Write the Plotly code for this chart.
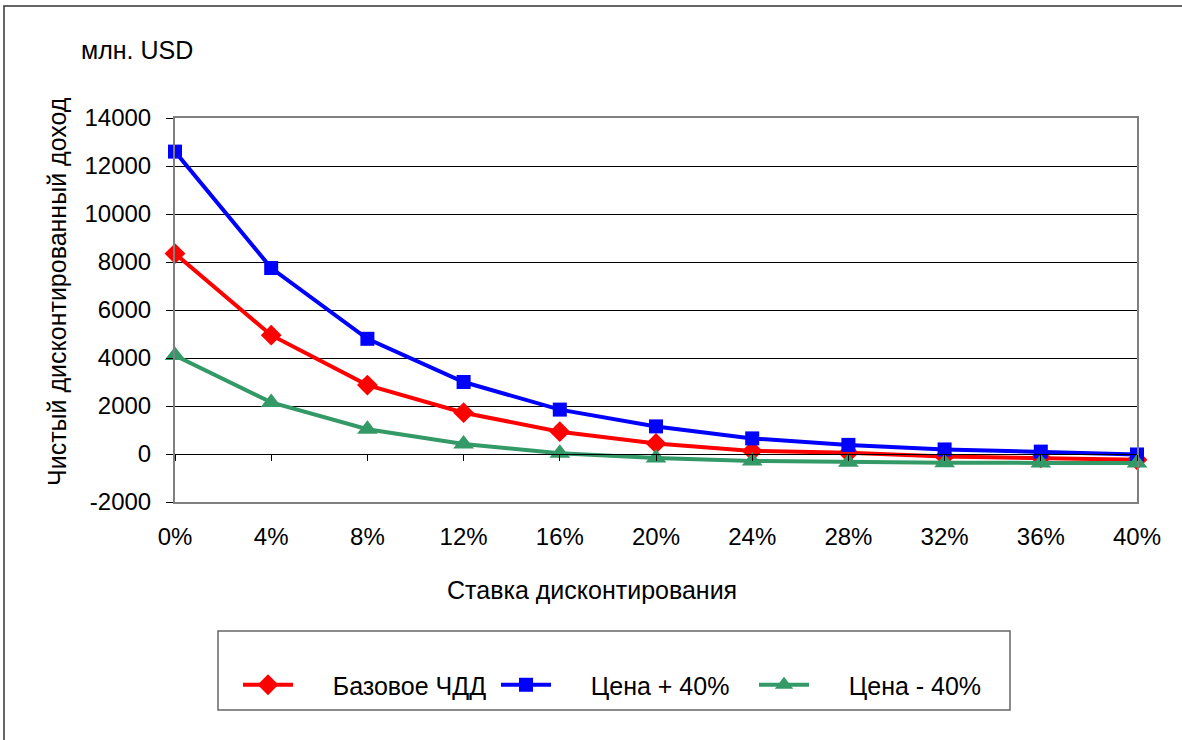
import plotly.graph_objects as go

# Discount rates (category axis) and NPV series, mln USD
rates = ["0%", "4%", "8%", "12%", "16%", "20%", "24%", "28%", "32%", "36%", "40%"]
npv_base = [8350, 4950, 2870, 1720, 930, 440, 130, 50, -100, -160, -240]
npv_price_up = [12600, 7750, 4800, 3000, 1850, 1150, 650, 380, 190, 100, -20]
npv_price_down = [4100, 2150, 1030, 420, 30, -170, -290, -340, -360, -370, -370]

series_names = ["Базовое ЧДД", "Цена + 40%", "Цена - 40%"]
y_ticks = [-2000, 0, 2000, 4000, 6000, 8000, 10000, 12000, 14000]
y_tick_text = ["-2000", "0", "2000", "4000", "6000", "8000", "10000", "12000", "14000"]

FONT = "Liberation Sans, Arial, sans-serif"
W, H = 1182, 740
L, R, T, B = 175, 45, 118, 238
PW, PH = W - L - R, H - T - B
LEGEND_PAD = "&nbsp;" * 5


def px_x(px):
    return (px - L) / PW


def px_y(py):
    return (H - B - py) / PH


fig = go.Figure()

styles = [
    (npv_base, "#ff0000", "diamond", 16),
    (npv_price_up, "#0000ff", "square", 14),
    (npv_price_down, "#339966", "triangle-up", 18),
]
for name, (vals, color, symbol, size) in zip(series_names, styles):
    fig.add_trace(go.Scatter(
        x=rates, y=vals, name=LEGEND_PAD + name, mode="lines+markers",
        line=dict(color=color, width=4),
        marker=dict(symbol=symbol, size=size, color=color),
        cliponaxis=False,
    ))

# invisible trace that carries the category axis drawn through y = 0
fig.add_trace(go.Scatter(
    x=rates, y=[0] * len(rates), xaxis="x2", mode="lines",
    line=dict(width=0), showlegend=False, hoverinfo="skip",
))

fig.update_layout(
    width=W, height=H,
    margin=dict(l=L, r=R, t=T, b=B),
    paper_bgcolor="white", plot_bgcolor="white",
    font=dict(family=FONT, size=24, color="black"),
    showlegend=True,
    legend=dict(
        orientation="h", x=px_x(238), y=px_y(685),
        xanchor="left", yanchor="middle",
        font=dict(size=25), itemwidth=50,
        entrywidth=193, entrywidthmode="pixels",
        bgcolor="rgba(0,0,0,0)", borderwidth=0,
    ),
    xaxis=dict(
        type="category", range=[0, 10],
        tickvals=rates, ticktext=rates,
        showgrid=False, ticks="", ticklabelstandoff=12,
        showline=True, mirror=True, linecolor="#808080", linewidth=2,
        zeroline=False,
    ),
    xaxis2=dict(
        type="category", range=[0, 10], overlaying="x",
        anchor="free", position=2000 / 16000, side="bottom",
        tickvals=rates, showticklabels=False,
        ticks="outside", ticklen=6, tickcolor="black", tickwidth=1,
        showline=True, linecolor="black", linewidth=1,
        showgrid=False, zeroline=False,
    ),
    yaxis=dict(
        range=[-2000, 14000], tickvals=y_ticks, ticktext=y_tick_text,
        showgrid=True, gridcolor="black", gridwidth=1,
        ticks="outside", ticklen=7, tickcolor="black",
        ticklabelstandoff=10,
        showline=True, mirror=True, linecolor="#808080", linewidth=2,
        zeroline=False,
    ),
    annotations=[
        dict(text="млн. USD", xref="paper", yref="paper",
             x=px_x(79), y=px_y(50), xanchor="left", yanchor="middle",
             showarrow=False, font=dict(size=25)),
        dict(text="Чистый дисконтированный доход", xref="paper", yref="paper",
             x=px_x(57), y=px_y(292), xanchor="center", yanchor="middle",
             textangle=-90, showarrow=False, font=dict(size=25)),
        dict(text="Ставка дисконтирования", xref="paper", yref="paper",
             x=px_x(592), y=px_y(590), xanchor="center", yanchor="middle",
             showarrow=False, font=dict(size=25)),
    ],
    shapes=[
        # outer chart frame
        dict(type="rect", xref="paper", yref="paper",
             x0=px_x(4), x1=px_x(1300), y0=px_y(900), y1=px_y(6),
             line=dict(color="#333333", width=1.5), layer="below"),
        # legend box
        dict(type="rect", xref="paper", yref="paper",
             x0=px_x(218), x1=px_x(1010), y0=px_y(710), y1=px_y(631),
             line=dict(color="#666666", width=1.5), layer="below"),
    ],
)

fig.write_html("out.html")
